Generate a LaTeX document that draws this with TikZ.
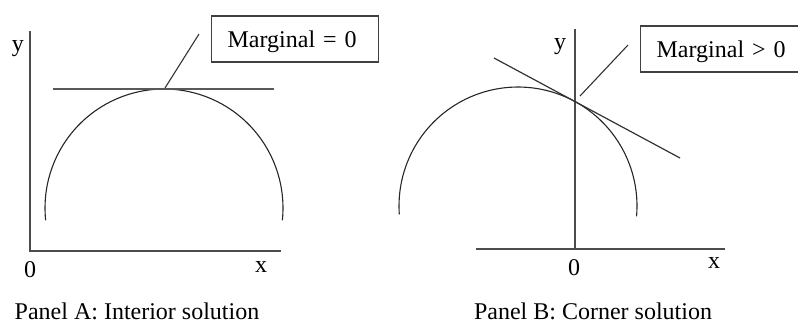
\documentclass[tikz,border=0pt]{standalone}
\usepackage{fontspec}
\setmainfont{Liberation Serif}
\begin{document}
\begin{tikzpicture}[x=1pt, y=-1pt,
    every node/.style={font=\fontsize{24}{28}\selectfont, inner sep=0pt},
    axis/.style={line width=1.3pt, black!70},
    curve/.style={line width=1.1pt, black!85, domain=174:366, smooth, samples=90, variable=\t},
    tangent/.style={line width=1.2pt, black!65},
    leader/.style={line width=1.1pt, black!80},
    labelbox/.style={draw, line width=1.3pt, black!75, text=black, anchor=base west, inner xsep=16pt, inner ysep=0pt,
        text width=135pt, align=left, text height=31pt, text depth=15pt}]
    \useasboundingbox (0,0) rectangle (798,325);
    \clip (0,0) rectangle (798,325);
    % Panel A: interior solution
    \coordinate (Aytop) at (30,31);
    \coordinate (Ao) at (30,251);
    \coordinate (Axend) at (281,251);
    \draw[axis] (Aytop) -- (Ao) -- (Axend);
    \node[anchor=base] (Ay) at (18,51) {y};
    \node[anchor=base] (A0) at (30,277) {0};
    \node[anchor=base] (Ax) at (261,272) {x};
    \draw[curve] plot ({164+119*cos(\t)}, {208+119*sin(\t)});
    \coordinate (Atl) at (53,89);
    \coordinate (Atr) at (274,89);
    \draw[tangent] (Atl) -- (Atr);
    \node[labelbox] (Abox) at (211,47) {Marginal = 0};
    \coordinate (Alead) at (199,34);
    \coordinate (Atouch) at (165,88);
    \draw[leader] (Alead) -- (Atouch);
    \node[anchor=base] (Acap) at (137,319) {Panel A: Interior solution};
    % Panel B: corner solution
    \coordinate (Bytop) at (575,29);
    \coordinate (Bo) at (575,249);
    \coordinate (Bxl) at (476,249);
    \coordinate (Bxr) at (725,249);
    \draw[axis] (Bytop) -- (Bo);
    \draw[axis] (Bxl) -- (Bxr);
    \node[anchor=base] (By) at (560,49) {y};
    \node[anchor=base] (B0) at (574,275) {0};
    \node[anchor=base] (Bx) at (714,268) {x};
    \draw[curve, domain=176:365] plot ({518+119*cos(\t)}, {206+119*sin(\t)});
    \coordinate (Btl) at (494,58);
    \coordinate (Btr) at (680,158);
    \draw[tangent, black!80] (Btl) -- (Btr);
    \node[labelbox, text width=160pt] (Bbox) at (640,57) {Marginal > 0};
    \coordinate (Blead) at (628,45);
    \coordinate (Btouch) at (580,96);
    \draw[leader] (Blead) -- (Btouch);
    \node[anchor=base] (Bcap) at (593,319) {Panel B: Corner solution};
\end{tikzpicture}
\end{document}
